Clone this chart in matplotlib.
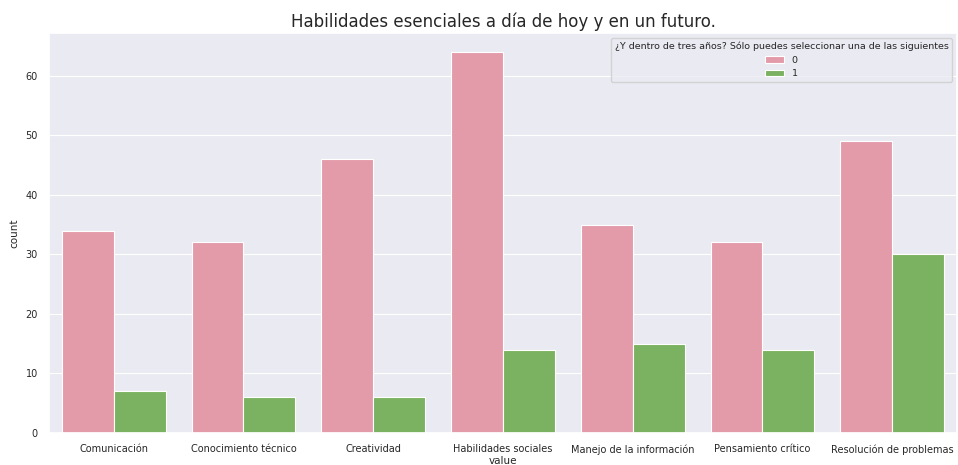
import matplotlib
matplotlib.use("Agg")
import matplotlib.pyplot as plt
import seaborn as sns
import numpy as np

categories = ["Comunicación", "Conocimiento técnico", "Creatividad", "Habilidades sociales",
              "Manejo de la información", "Pensamiento crítico", "Resolución de problemas"]
counts_0 = [34, 32, 46, 64, 35, 32, 49]
counts_1 = [7, 6, 6, 14, 15, 14, 30]
hue_labels = ["0", "1"]
colors = ["#E39BAA", "#7AB261"]

sns.set_theme(style="darkgrid", rc={"grid.linewidth": 0.8})
fig = plt.figure(figsize=(9.58, 4.65), dpi=100)
ax = fig.add_axes([0.051, 0.069, 0.948, 0.86])

x = np.arange(len(categories))
w = 0.4
ax.bar(x - w/2, counts_0, width=w, color=colors[0], edgecolor="white", linewidth=0.8, label=hue_labels[0])
ax.bar(x + w/2, counts_1, width=w, color=colors[1], edgecolor="white", linewidth=0.8, label=hue_labels[1])

ax.set_xticks(x)
ax.set_xticklabels(categories, fontsize=7)
ax.tick_params(axis="x", pad=2)
ax.tick_params(axis="y", labelsize=7, pad=2)
ax.xaxis.grid(False)
ax.set_xlim(-0.5, len(categories) - 0.5)
ax.set_xlabel("value", fontsize=7.5, labelpad=1)
ax.set_ylabel("count", fontsize=7.5)
ax.set_title("Habilidades esenciales a día de hoy y en un futuro.", fontsize=12, pad=4)

leg = ax.legend(title="¿Y dentro de tres años? Sólo puedes seleccionar una de las siguientes",
                fontsize=6.8, title_fontsize=6.8, loc="upper right",
                handlelength=2, handleheight=0.7)
leg._legend_box.align = "center"

fig.savefig("out.png", dpi=100)
